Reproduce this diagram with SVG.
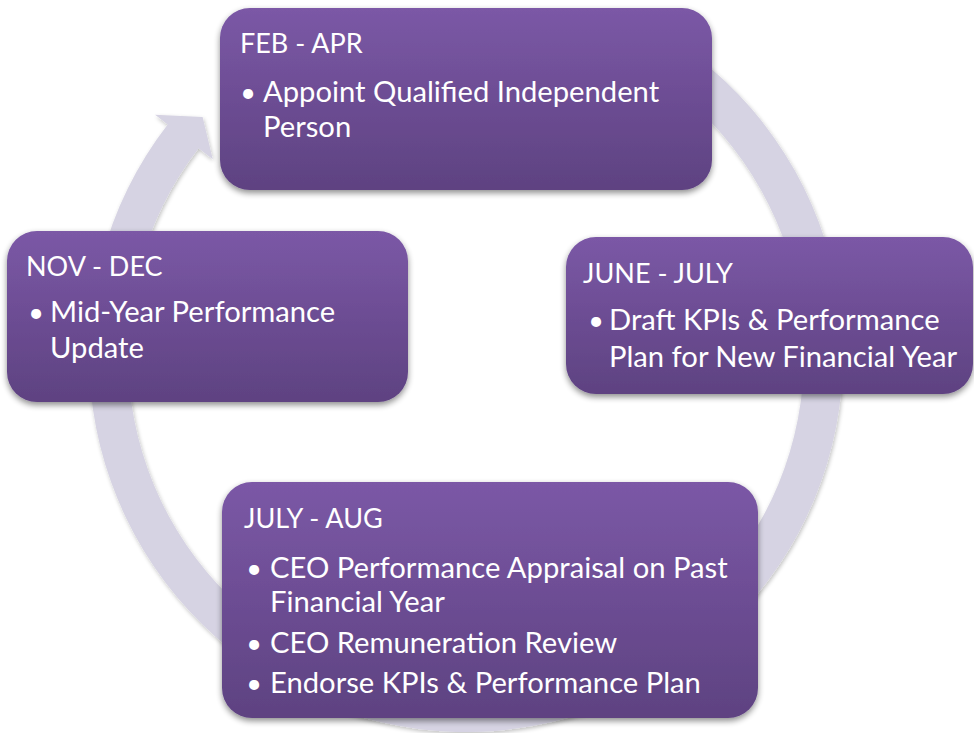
<svg xmlns="http://www.w3.org/2000/svg" width="974" height="733" viewBox="0 0 974 733">
  <defs>
    <linearGradient id="boxGrad" x1="0" y1="0" x2="0" y2="1">
      <stop offset="0" stop-color="#7B58A6"/>
      <stop offset="1" stop-color="#5E4281"/>
    </linearGradient>
    <filter id="shadow" x="-10%" y="-10%" width="120%" height="130%">
      <feGaussianBlur in="SourceAlpha" stdDeviation="3"/>
      <feOffset dx="0" dy="3" result="b"/>
      <feComponentTransfer><feFuncA type="linear" slope="0.45"/></feComponentTransfer>
      <feMerge><feMergeNode/><feMergeNode in="SourceGraphic"/></feMerge>
    </filter>
    <filter id="ringShadow" x="-10%" y="-10%" width="120%" height="120%">
      <feGaussianBlur in="SourceAlpha" stdDeviation="2"/>
      <feOffset dx="1" dy="2" result="b"/>
      <feComponentTransfer><feFuncA type="linear" slope="0.25"/></feComponentTransfer>
      <feMerge><feMergeNode/><feMergeNode in="SourceGraphic"/></feMerge>
    </filter>
  </defs>
  <style>
    .box { fill: url(#boxGrad); filter: url(#shadow); }
    .h { font-family: Lato, "Liberation Sans", sans-serif; font-size: 27px; fill: #FFFFFF; }
    .t { font-family: Lato, "Liberation Sans", sans-serif; font-size: 29.2px; fill: #FFFFFF; }
    .b { font-family: Lato, "Liberation Sans", sans-serif; font-size: 27px; fill: #FFFFFF; text-anchor: middle; }
    .ring { fill: #D6D3E3; filter: url(#ringShadow); }
  </style>

  <g id="connectors">
    <path class="ring" d="M 665.8,35.3 A 377 377 0 1 1 167.7,124.5 L 155.1,114.7 L 202.6,117 L 212.8,159.3 L 198.6,148.3 A 338 338 0 1 0 645.1,68.4 Z"/>
  </g>

  <g id="node-feb-apr">
    <rect class="box" x="220" y="8" width="492" height="182" rx="30" ry="30"/>
    <text class="h" x="240" y="53">FEB - APR</text>
    <text class="b" x="248" y="101.7">•</text>
    <text class="t" x="263" y="101.7">Appoint Qualified Independent</text>
    <text class="t" x="263" y="137.3">Person</text>
  </g>

  <g id="node-june-july">
    <rect class="box" x="566" y="237" width="407" height="157" rx="30" ry="30"/>
    <text class="h" x="583" y="283">JUNE - JULY</text>
    <text class="b" x="596" y="330">•</text>
    <text class="t" x="609" y="330">Draft KPIs &amp; Performance</text>
    <text class="t" x="609" y="367">Plan for New Financial Year</text>
  </g>

  <g id="node-nov-dec">
    <rect class="box" x="7" y="231" width="401" height="171" rx="30" ry="30"/>
    <text class="h" x="26" y="276">NOV - DEC</text>
    <text class="b" x="36" y="321.7">•</text>
    <text class="t" x="50" y="321.7">Mid-Year Performance</text>
    <text class="t" x="50" y="358">Update</text>
  </g>

  <g id="node-july-aug">
    <rect class="box" x="222" y="482" width="536" height="236" rx="30" ry="30"/>
    <text class="h" x="244" y="528.3">JULY - AUG</text>
    <text class="b" x="254" y="578.3">•</text>
    <text class="t" x="270" y="578.3">CEO Performance Appraisal on Past</text>
    <text class="t" x="270" y="611.7">Financial Year</text>
    <text class="b" x="254" y="653.3">•</text>
    <text class="t" x="270" y="653.3">CEO Remuneration Review</text>
    <text class="b" x="254" y="693.3">•</text>
    <text class="t" x="270" y="693.3">Endorse KPIs &amp; Performance Plan</text>
  </g>
</svg>
